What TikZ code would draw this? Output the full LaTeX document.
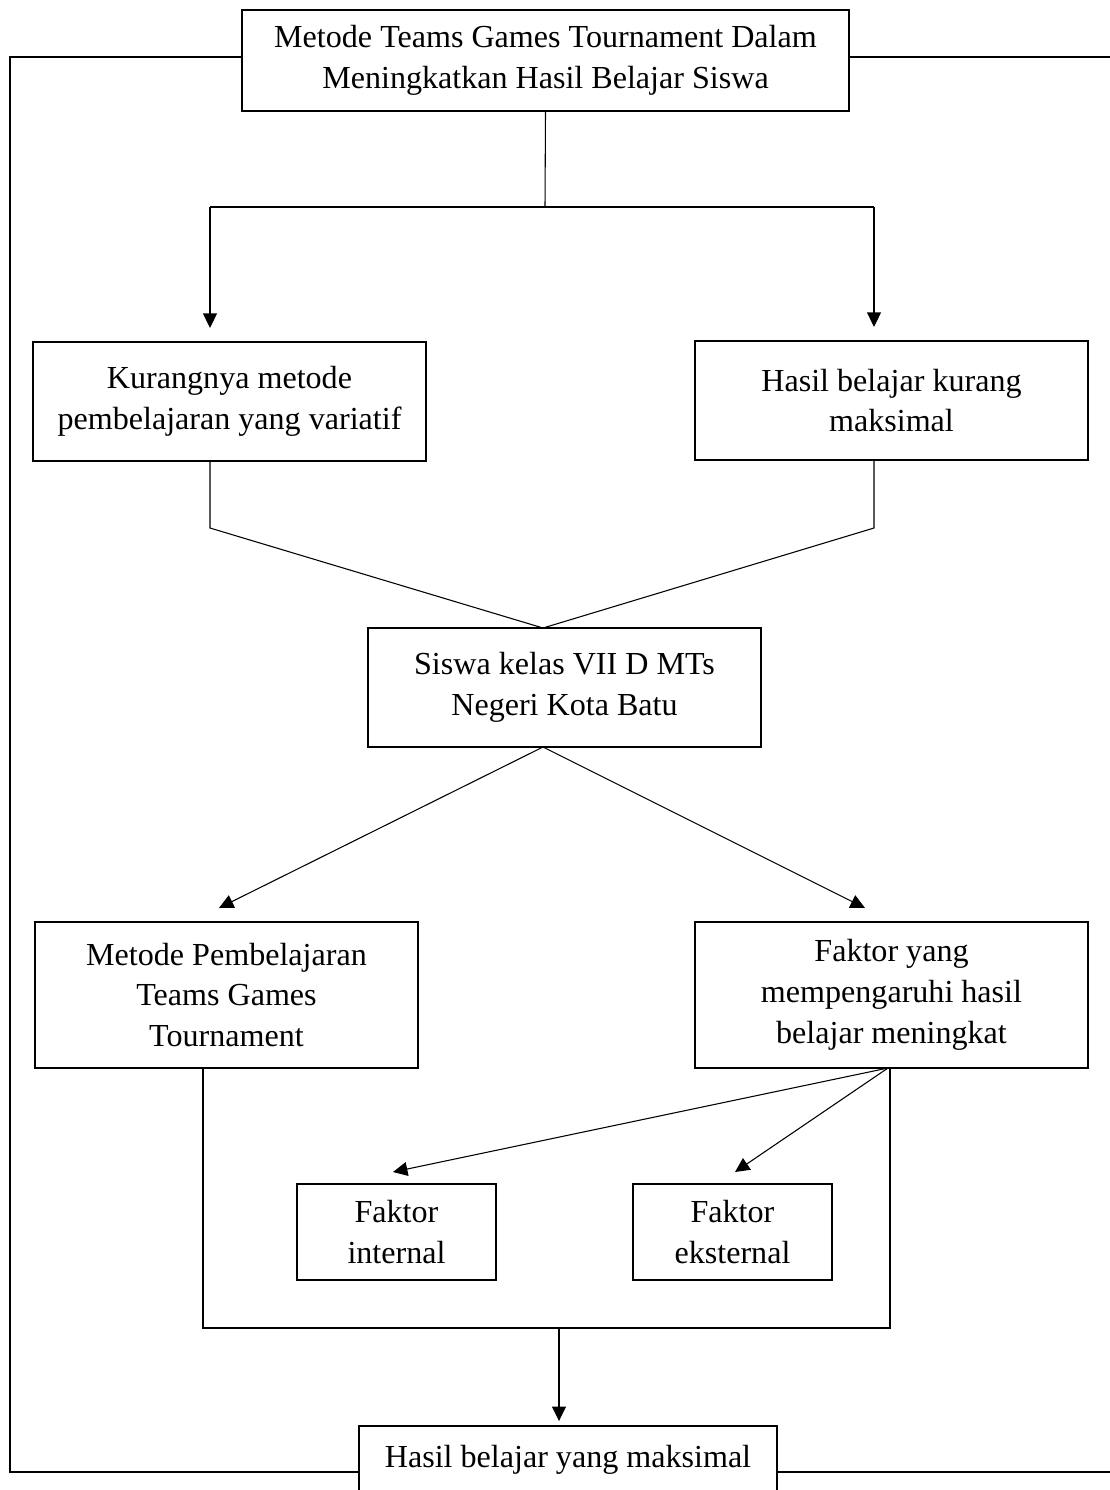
\documentclass[tikz,border=0pt]{standalone}
\usepackage{fontspec}
\setmainfont{Liberation Serif}
\usetikzlibrary{arrows.meta}

\begin{document}
\begin{tikzpicture}[x=0.374pt, y=-0.374pt, thick, >={Triangle[length=5.4pt,width=5.2pt]},
  kotak/.style={draw, line width=0.75pt, align=center, inner sep=0pt,
    font=\fontsize{12}{15.3}\selectfont},
  garis/.style={line width=0.4pt}]
        \useasboundingbox (0,0) rectangle (1110,1490);
        \node[kotak, minimum width=227pt, minimum height=37.8pt] (judul) at (545.5,60.5) {%
          Metode Teams Games Tournament Dalam\\Meningkatkan Hasil Belajar Siswa};
        \node[kotak, minimum width=147pt, minimum height=44.5pt] (kurang) at (229.5,401.5) {%
          Kurangnya metode\\pembelajaran yang variatif};
        \node[kotak, minimum width=147pt, minimum height=44.5pt] (hasil) at (891.5,400.5) {%
          Hasil belajar kurang\\maksimal};
        \node[kotak, minimum width=147pt, minimum height=44.5pt] (siswa) at (564.5,687.5) {%
          Siswa kelas VII D MTs\\Negeri Kota Batu};
        \node[kotak, minimum width=143.2pt, minimum height=54.6pt] (metode) at (226.5,995) {%
          Metode Pembelajaran\\Teams Games\\Tournament};
        \node[kotak, minimum width=147pt, minimum height=54.6pt] (faktor) at (891.5,995) {%
          Faktor yang\\mempengaruhi hasil\\belajar meningkat};
        \node[kotak, minimum width=74.4pt, minimum height=35.9pt] (internal) at (396.5,1232) {%
          Faktor\\internal};
        \node[kotak, minimum width=74.4pt, minimum height=35.9pt] (eksternal) at (732.5,1232) {%
          Faktor\\eksternal};
        \node[kotak, minimum width=156.3pt, minimum height=25.4pt] (akhir) at (568,1460) {%
          Hasil belajar yang maksimal};
        % titik bantu
        \coordinate (kiriatas) at (10,57);
        \coordinate (kananatas) at (1110,57);
        \coordinate (kiribawah) at (10,1472);
        \coordinate (kananbawah) at (1110,1472);
        \coordinate (cabang) at (545,207);
        \coordinate (cabangkiri) at (210,207);
        \coordinate (cabangkanan) at (874,207);
        \coordinate (tekukkiri) at (210,528);
        \coordinate (tekukkanan) at (874,528);
        \coordinate (temu) at (543,628);
        \coordinate (pisah) at (543,747);
        \coordinate (ujungmetode) at (219,908);
        \coordinate (ujungfaktor) at (865,908);
        \coordinate (akar) at (888,1068);
        \coordinate (ujungint) at (393,1172);
        \coordinate (ujungeks) at (735,1172);
        \coordinate (kumpulkiri) at (203,1328);
        \coordinate (kumpulkanan) at (890,1328);
        \coordinate (kumpul) at (559,1328);
        % garis luar
        \draw[garis] (judul.west |- kiriatas) -- (kiriatas) -- (kiribawah) -- (akhir.west |- kiribawah);
        \draw[garis] (judul.east |- kananatas) -- (kananatas);
        \draw[garis] (akhir.east |- kananbawah) -- (kananbawah);
        % cabang atas
        \draw[garis] (judul.south) -- (cabang);
        \draw[garis] (cabangkiri) -- (cabangkanan);
        \draw[garis, ->, shorten >=4.9pt] (cabangkiri) -- (cabangkiri |- kurang.north);
        \draw[garis, ->, shorten >=4.9pt] (cabangkanan) -- (cabangkanan |- hasil.north);
        \draw[garis] (tekukkiri |- kurang.south) -- (tekukkiri) -- (temu);
        \draw[garis] (tekukkanan |- hasil.south) -- (tekukkanan) -- (temu);
        % dari siswa
        \draw[garis, ->] (pisah) -- (ujungmetode);
        \draw[garis, ->] (pisah) -- (ujungfaktor);
        % faktor
        \draw[garis, ->] (akar) -- (ujungint);
        \draw[garis, ->] (akar) -- (ujungeks);
        \draw[garis] (kumpulkiri |- metode.south) -- (kumpulkiri) -- (kumpulkanan) -- (kumpulkanan |- faktor.south);
        \draw[garis, ->, shorten >=1.5pt] (kumpul) -- (kumpul |- akhir.north);
      \end{tikzpicture}
\end{document}
